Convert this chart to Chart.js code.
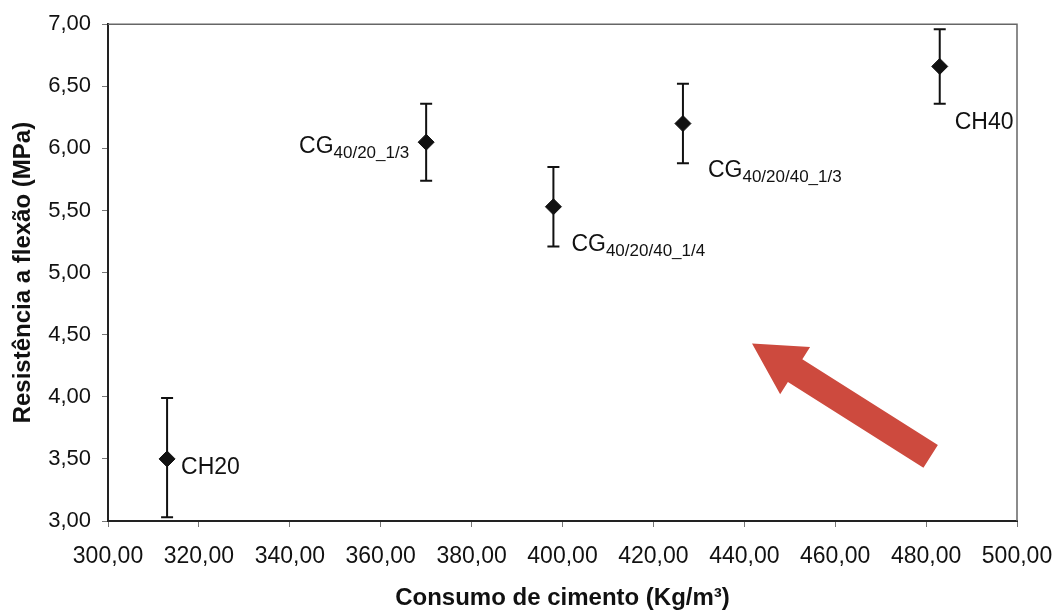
<!DOCTYPE html>
<html>
<head>
<meta charset="utf-8">
<script src="https://cdn.jsdelivr.net/npm/chart.js@4"></script>
<style>
  html, body { margin: 0; padding: 0; background: #fff; }
  #wrap { width: 1062px; height: 614px; }
</style>
</head>
<body>
<div id="wrap"><canvas id="flexChart" width="1062" height="614"></canvas></div>
<script>
// consumo de cimento x resistencia a flexao
const consumo = [313, 370, 398, 426.5, 483];
const resistencia = [3.50, 6.05, 5.53, 6.20, 6.66];
const resistMax = [3.99, 6.36, 5.85, 6.52, 6.96];
const resistMin = [3.03, 5.74, 5.21, 5.88, 6.36];
const nomes = ["CH", "CG", "CG", "CG", "CH"];
const nomesSub = ["", "40/20_1/3", "40/20/40_1/4", "40/20/40_1/3", ""];
const nomesFim = ["20", "", "", "", "40"];

const FONT = "'Liberation Sans', Arial, sans-serif";

// onde vai cada rotulo em relacao ao ponto (px)
const rotuloPos = [
  { dx: 14, dy: 15, align: "left" },
  { dx: -17, dy: 11, align: "right" },
  { dx: 18, dy: 44, align: "left" },
  { dx: 25, dy: 53, align: "left" },
  { dx: 15, dy: 63, align: "left" }
];

// seta vermelha (em unidades do grafico)
const seta = { de: [481, 3.52], para: [441.7, 4.43] };

const errorBars = {
  id: "errorBars",
  beforeDatasetsDraw(chart) {
    const { ctx, scales: { x, y } } = chart;
    ctx.save();
    ctx.strokeStyle = "#111";
    ctx.lineWidth = 2;
    consumo.forEach((v, i) => {
      const px = x.getPixelForValue(v);
      const top = y.getPixelForValue(resistMax[i]);
      const bot = y.getPixelForValue(resistMin[i]);
      ctx.beginPath();
      ctx.moveTo(px, top); ctx.lineTo(px, bot);
      ctx.moveTo(px - 6, top); ctx.lineTo(px + 6, top);
      ctx.moveTo(px - 6, bot); ctx.lineTo(px + 6, bot);
      ctx.stroke();
    });
    ctx.restore();
  }
};

const extras = {
  id: "extras",
  afterDraw(chart) {
    const { ctx, chartArea: a, scales: { x, y } } = chart;
    ctx.save();
    // moldura em cima e a direita
    ctx.strokeStyle = "#666";
    ctx.lineWidth = 1.5;
    ctx.beginPath();
    ctx.moveTo(a.left, a.top); ctx.lineTo(a.right, a.top); ctx.lineTo(a.right, a.bottom);
    ctx.stroke();

    // rotulos
    ctx.fillStyle = "#111";
    ctx.textBaseline = "alphabetic";
    consumo.forEach((v, i) => {
      const p = rotuloPos[i];
      const bx = x.getPixelForValue(v) + p.dx;
      const by = y.getPixelForValue(resistencia[i]) + p.dy;
      const main = nomes[i] + nomesFim[i];
      ctx.font = "23px " + FONT;
      const wMain = ctx.measureText(main).width;
      ctx.font = "17px " + FONT;
      const wSub = ctx.measureText(nomesSub[i]).width;
      let sx = p.align === "left" ? bx : bx - wMain - wSub;
      ctx.font = "23px " + FONT;
      ctx.textAlign = "left";
      ctx.fillText(main, sx, by);
      if (nomesSub[i]) {
        ctx.font = "17px " + FONT;
        ctx.fillText(nomesSub[i], sx + wMain, by + 5);
      }
    });

    // seta
    const x0 = x.getPixelForValue(seta.de[0]), y0 = y.getPixelForValue(seta.de[1]);
    const x1 = x.getPixelForValue(seta.para[0]), y1 = y.getPixelForValue(seta.para[1]);
    const len = Math.hypot(x1 - x0, y1 - y0);
    const ux = (x1 - x0) / len, uy = (y1 - y0) / len;
    const nx = -uy, ny = ux;
    const hw = 13.5, headLen = 51, headW = 28;
    const bx = x1 - ux * headLen, by = y1 - uy * headLen;
    ctx.fillStyle = "#cd4a3e";
    ctx.beginPath();
    ctx.moveTo(x0 + nx * hw, y0 + ny * hw);
    ctx.lineTo(bx + nx * hw, by + ny * hw);
    ctx.lineTo(bx + nx * headW, by + ny * headW);
    ctx.lineTo(x1, y1);
    ctx.lineTo(bx - nx * headW, by - ny * headW);
    ctx.lineTo(bx - nx * hw, by - ny * hw);
    ctx.lineTo(x0 - nx * hw, y0 - ny * hw);
    ctx.closePath();
    ctx.fill();
    ctx.restore();
  }
};

function numBR(v) {
  return v.toFixed(2).replace(".", ",");
}

new Chart(document.getElementById("flexChart").getContext("2d"), {
  type: "scatter",
  data: {
    datasets: [{
      label: "Resistência",
      data: consumo.map((v, i) => ({ x: v, y: resistencia[i] })),
      pointStyle: "rectRot",
      pointRadius: 8,
      pointHoverRadius: 8,
      backgroundColor: "#111",
      borderColor: "#111",
      borderWidth: 1
    }]
  },
  options: {
    responsive: false,
    animation: false,
    layout: { padding: { top: 23, right: 45, left: 0, bottom: 0 } },
    plugins: { legend: { display: false }, tooltip: { enabled: false } },
    scales: {
      x: {
        type: "linear",
        min: 300, max: 500,
        afterFit: s => { s.height = 93; s.paddingRight = 0; s.paddingLeft = 0; },
        ticks: { stepSize: 20, color: "#111", padding: 16, font: { family: FONT, size: 23 }, callback: numBR, maxRotation: 0 },
        grid: { display: true, drawOnChartArea: false, tickLength: 6, tickColor: "#777" },
        border: { color: "#222", width: 2 },
        title: { display: true, text: "Consumo de cimento (Kg/m³)", color: "#111", padding: { bottom: 1 }, font: { family: FONT, size: 24, weight: "bold" } }
      },
      y: {
        min: 3, max: 7,
        afterFit: s => { s.width = 108; },
        ticks: { stepSize: 0.5, color: "#111", padding: 11, font: { family: FONT, size: 22 }, callback: numBR },
        grid: { display: true, drawOnChartArea: false, tickLength: 6, tickColor: "#777" },
        border: { color: "#222", width: 2 },
        title: { display: true, text: "Resistência a flexão (MPa)", color: "#111", padding: { top: 9 }, font: { family: FONT, size: 24, weight: "bold" } }
      }
    }
  },
  plugins: [errorBars, extras]
});
</script>
</body>
</html>
